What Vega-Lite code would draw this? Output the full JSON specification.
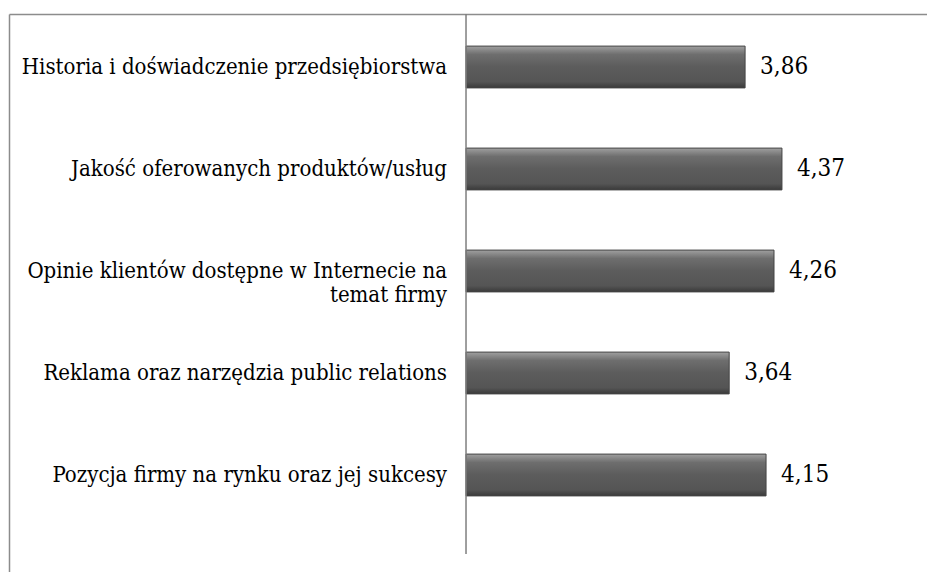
{
  "$schema": "https://vega.github.io/schema/vega-lite/v6.json",
  "width": 918,
  "height": 558,
  "autosize": {"type": "none"},
  "padding": {"left": 9, "top": 14, "right": 0, "bottom": 0},
  "background": "white",
  "config": {
    "view": {"stroke": null},
    "locale": {"number": {"decimal": ",", "thousands": " ", "grouping": [3], "currency": ["", " zł"]}},
    "font": "DejaVu Serif Condensed, DejaVu Serif"
  },
  "data": {
    "values": [
      {"kategoria": "Historia i doświadczenie przedsiębiorstwa", "ocena": 3.86},
      {"kategoria": "Jakość oferowanych produktów/usług", "ocena": 4.37},
      {"kategoria": "Opinie klientów dostępne w Internecie na\ntemat firmy", "ocena": 4.26},
      {"kategoria": "Reklama oraz narzędzia public relations", "ocena": 3.64},
      {"kategoria": "Pozycja firmy na rynku oraz jej sukcesy", "ocena": 4.15}
    ]
  },
  "encoding": {
    "y": {
      "field": "kategoria",
      "type": "nominal",
      "sort": null,
      "scale": {"paddingInner": 0, "paddingOuter": 0.2353, "align": 0.0417},
      "axis": {"orient": "left", "labels": false, "ticks": false, "title": null, "domain": true, "domainColor": "#8c8c8c", "domainWidth": 1.5, "grid": false}
    }
  },
  "layer": [
    {
      "mark": {
        "type": "bar",
        "height": {"band": 0.41},
        "stroke": "#454545",
        "strokeWidth": 1,
        "fill": {
          "gradient": "linear",
          "x1": 0, "y1": 0, "x2": 0, "y2": 1,
          "stops": [
            {"offset": 0, "color": "#a0a0a0"},
            {"offset": 0.2, "color": "#6e6e6e"},
            {"offset": 0.5, "color": "#5c5c5c"},
            {"offset": 0.85, "color": "#555555"},
            {"offset": 1, "color": "#3a3a3a"}
          ]
        }
      },
      "encoding": {
        "x": {
          "field": "ocena",
          "type": "quantitative",
          "scale": {"domain": [-6.321, 6.376], "nice": false, "zero": false},
          "axis": {"orient": "top", "labels": false, "ticks": false, "grid": false, "title": null, "domain": true, "domainColor": "#8c8c8c", "domainWidth": 1.5}
        },
        "x2": {"datum": 0}
      }
    },
    {
      "mark": {"type": "rule", "color": "#7f7f7f", "strokeWidth": 1.5},
      "data": {"values": [{"od": "Historia i doświadczenie przedsiębiorstwa", "do": "Pozycja firmy na rynku oraz jej sukcesy", "x0": 0}]},
      "encoding": {
        "x": {"field": "x0", "type": "quantitative"},
        "y": {"field": "od", "type": "nominal", "bandPosition": -0.02},
        "y2": {"field": "do", "bandPosition": 1.2745}
      }
    },
    {
      "mark": {"type": "text", "font": "DejaVu Serif Condensed, DejaVu Serif", "align": "right", "baseline": "middle", "dx": -19, "fontSize": 22, "lineBreak": "\n", "lineHeight": 24, "color": "#000000"},
      "encoding": {
        "x": {"datum": 0, "type": "quantitative"},
        "text": {"field": "kategoria"}
      }
    },
    {
      "mark": {"type": "text", "font": "DejaVu Serif Condensed, DejaVu Serif", "align": "left", "baseline": "middle", "dx": 15, "fontSize": 24, "color": "#000000"},
      "encoding": {
        "x": {"field": "ocena", "type": "quantitative"},
        "text": {"field": "ocena", "type": "quantitative", "format": ".2f"}
      }
    }
  ]
}
